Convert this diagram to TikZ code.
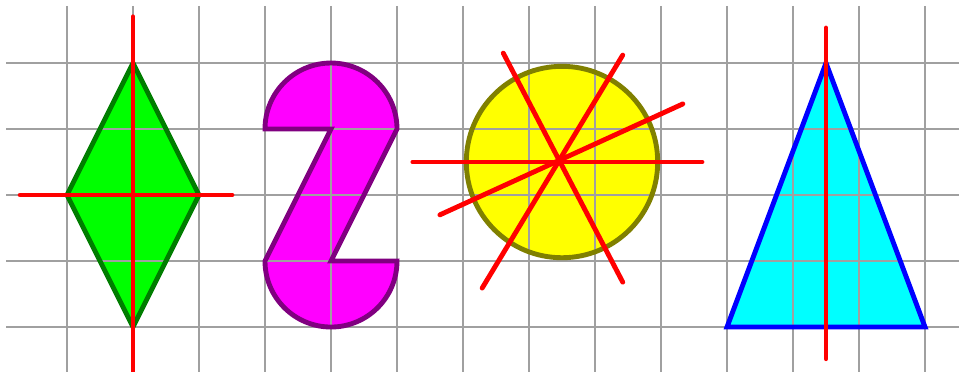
\documentclass[tikz,border=0pt]{standalone}
\usepackage{tikz}
\definecolor{gridgray}{RGB}{160,160,160}
\definecolor{rhombfill}{RGB}{0,255,0}
\definecolor{rhombrule}{RGB}{0,125,0}
\definecolor{zfill}{RGB}{255,0,255}
\definecolor{zrule}{RGB}{128,0,128}
\definecolor{discfill}{RGB}{255,255,0}
\definecolor{discrule}{RGB}{128,128,0}
\definecolor{trifill}{RGB}{0,255,255}
\definecolor{trirule}{RGB}{0,0,255}
\definecolor{axisred}{RGB}{255,0,0}
\tikzset{
  gridline/.style={draw=gridgray,line width=0.85pt},
  outline/.style={line width=2.1pt},
  axisline/.style={draw=axisred,line width=2.1pt,line cap=round}
}

\begin{document}
\begin{tikzpicture}
  \useasboundingbox (-1.015,-0.667) rectangle (13.515,4.955);
  \clip (-1.015,-0.667) rectangle (13.515,4.955);
  \coordinate (rtop) at (1,4);
  \coordinate (rleft) at (0,2);
  \coordinate (rbot) at (1,0);
  \coordinate (rright) at (2,2);
  \coordinate (zleft) at (3,3);
  \coordinate (zright) at (5,1);
  \coordinate (zmidtop) at (4,3);
  \coordinate (zmidbot) at (4,1);
  \coordinate (disc) at (7.5,2.5);
  \coordinate (tleft) at (10,0);
  \coordinate (tright) at (13,0);
  \coordinate (ttop) at (11.5,4);
  \fill[rhombfill] (rtop) -- (rleft) -- (rbot) -- (rright) -- cycle;
  \fill[zfill] (zleft) arc[start angle=180,end angle=0,radius=1] -- (zmidbot) -- (zright)
    arc[start angle=0,end angle=-180,radius=1] -- (zmidtop) -- cycle;
  \fill[discfill] (disc) circle[radius=1.45];
  \fill[trifill] (tleft) -- (tright) -- (ttop) -- cycle;
  \foreach \x in {0,...,13}
    \draw[gridline] (\x,4.864) -- (\x,-0.7);
  \foreach \y in {0,...,4}
    \draw[gridline] (-0.924,\y) -- (13.6,\y);
  \draw[outline,rhombrule] (rtop) -- (rleft) -- (rbot) -- (rright) -- cycle;
  \draw[outline,zrule] (zleft) arc[start angle=180,end angle=0,radius=1] -- (zmidbot) -- (zright)
    arc[start angle=0,end angle=-180,radius=1] -- (zmidtop) -- cycle;
  \draw[outline,discrule] (disc) circle[radius=1.45];
  \draw[outline,trirule] (tleft) -- (tright) -- (ttop) -- cycle;
  \draw[axisline] (1,4.7) -- (1,-0.8);
  \draw[axisline] (-0.71,2) -- (2.5,2);
  \draw[axisline] (5.24,2.5) -- (9.62,2.5);
  \draw[axisline] (6.61,4.15) -- (8.42,0.68);
  \draw[axisline] (8.42,4.12) -- (6.29,0.59);
  \draw[axisline] (9.33,3.38) -- (5.65,1.70);
  \draw[axisline] (11.5,4.53) -- (11.5,-0.48);
\end{tikzpicture}
\end{document}
